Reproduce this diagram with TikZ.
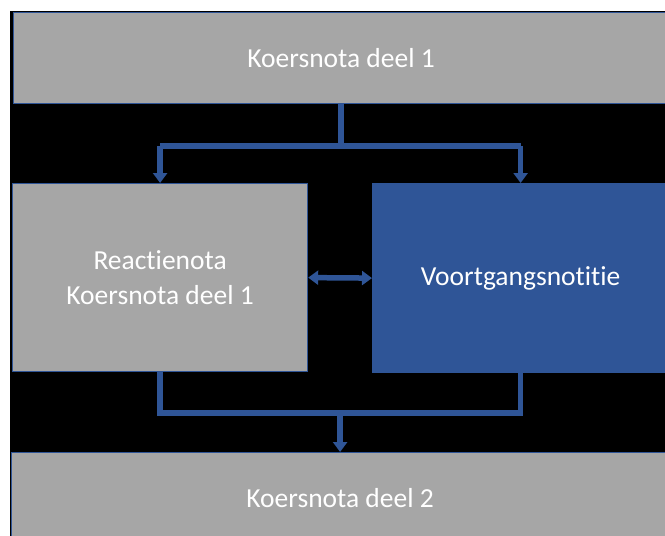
\documentclass[tikz,border=0pt]{standalone}
\usepackage{fontspec}
\setmainfont[Ligatures=NoCommon]{Carlito}
\usetikzlibrary{arrows.meta}
\definecolor{boxgray}{HTML}{A6A6A6}
\definecolor{dblue}{HTML}{2F5597}
\begin{document}
\begin{tikzpicture}[x=1pt,y=-1pt,
  box/.style={draw=dblue, line width=1.2pt, fill=boxgray, text=white, inner sep=0pt,
     font=\fontsize{27.5}{35}\selectfont, align=center, anchor=north west},
  bluebox/.style={box, fill=dblue},
  conn/.style={draw=dblue, line width=5.5pt, miter limit=10},
  tip/.style={-{Triangle[width=14pt,length=10pt]}},
  dtip/.style={{Triangle[width=14pt,length=10pt]}-{Triangle[width=14pt,length=10pt]}}]
\useasboundingbox (0,0) rectangle (665,536);
\clip (0,0) rectangle (665,536);
\fill[black] (10,11) rectangle (670,540);
\node[box, minimum width=655pt, minimum height=91pt] (top) at (13,12) {Koersnota deel 1};
\node[box, minimum width=295pt, minimum height=188pt] (left) at (12,183) {Reactienota\\Koersnota deel 1};
\node[bluebox, minimum width=296pt, minimum height=189pt] (right) at (372,183) {Voortgangsnotitie};
\node[box, minimum width=657pt, minimum height=90pt] (bottom) at (11,452) {Koersnota deel 2};
\coordinate (j1) at ([yshift=-42pt]top.south);
\coordinate (j2) at ([yshift=39pt]bottom.north);
\draw[conn] (top.south) -- (j1);
\draw[conn] (left.north |- j1) -- (right.north |- j1);
\draw[conn,tip] (left.north |- j1) -- (left.north);
\draw[conn,tip] (right.north |- j1) -- (right.north);
\draw[conn] (left.south) -- (left.south |- j2) -- (right.south |- j2) -- (right.south);
\draw[conn,tip] (j2) -- (bottom.north);
\draw[conn,dtip] (left.east) -- (right.west);
\end{tikzpicture}
\end{document}
